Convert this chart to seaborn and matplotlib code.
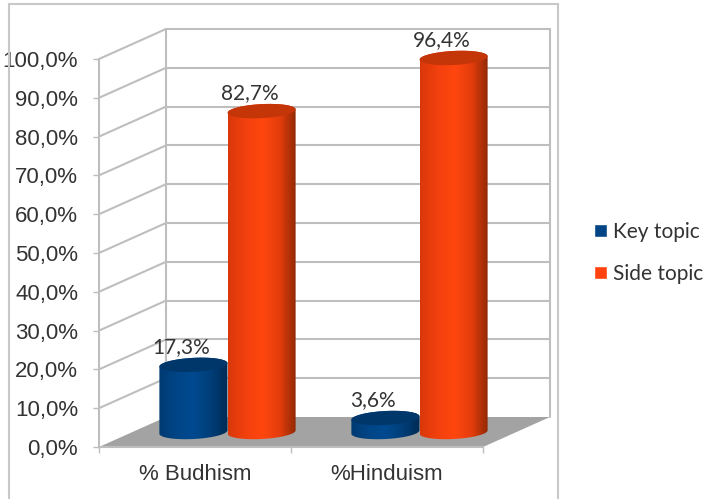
import numpy as np
import pandas as pd
import matplotlib.pyplot as plt
import seaborn as sns
from matplotlib.colors import LinearSegmentedColormap
from matplotlib.patches import Polygon, Rectangle

# -----------------------------
# 1. DATA
# -----------------------------
categories = ["% Budhism", "%Hinduism"]
key_topic = [17.3, 3.6]
side_topic = [82.7, 96.4]
series_names = ["Key topic", "Side topic"]
y_ticks = [0, 10, 20, 30, 40, 50, 60, 70, 80, 90, 100]

df = pd.DataFrame({
    "category": categories * 2,
    "share": key_topic + side_topic,
    "series": [series_names[0]] * 2 + [series_names[1]] * 2,
})

# -----------------------------
# 2. FIGURE AND AXES
# -----------------------------
W, H = 705, 499
GREY = "#BEBEBE"
TEXT = "#333333"
BLUE = "#004586"
RED = "#FF420E"

sns.set_theme(style="white")
plt.rcParams["font.family"] = ["Liberation Sans", "DejaVu Sans"]

fig = plt.figure(figsize=(W / 100, H / 100), dpi=100, facecolor="white")


def px_axes(left, right, top, bottom):
    return fig.add_axes([left / W, 1 - bottom / H, (right - left) / W, (bottom - top) / H])


# outer chart border, runs off the bottom of the image
fig.add_artist(Rectangle((9 / W, -0.02), 549 / W, 1.02 - 3.5 / H, transform=fig.transFigure,
                         fill=False, edgecolor="#C8C8C8", linewidth=1.5))

# front plane carries the value and category axes
ax_front = px_axes(99, 483, 59, 447)
ax_front.set_xlim(-0.5, 1.5)
ax_front.set_ylim(0, 100)
ax_front.patch.set_visible(False)

# bars stand half way into the depth of the box
ax = px_axes(131.5, 515.5, 44, 432)
ax.patch.set_visible(False)

# -----------------------------
# 3. 3D BOX (FLOOR AND WALLS)
# -----------------------------
dx = 67 / 192
dy = 30 / 3.88

ax_front.add_patch(Polygon([(-0.5, 0), (-0.5 + dx, dy), (1.5 + dx, dy), (1.5, 0)],
                           closed=True, facecolor="#A3A3A3", edgecolor="none",
                           clip_on=False, zorder=1))
for t in y_ticks:
    if t > 0:
        ax_front.plot([-0.5, -0.5 + dx], [t, t + dy], color=GREY, lw=1.5, clip_on=False, zorder=2)
        ax_front.plot([-0.5 + dx, 1.5 + dx], [t + dy, t + dy], color=GREY, lw=1.5, clip_on=False, zorder=2)
for x in [-0.5 + dx, 1.5 + dx]:
    ax_front.plot([x, x], [dy, 100 + dy], color=GREY, lw=1.5, clip_on=False, zorder=2)

sns.despine(ax=ax_front)
for side in ["left", "bottom"]:
    ax_front.spines[side].set_color(GREY)
    ax_front.spines[side].set_linewidth(1.5)

ax_front.set_yticks(y_ticks)
ax_front.set_yticklabels([f"{t:.1f}%".replace(".", ",") for t in y_ticks], fontsize=16, color=TEXT)
ax_front.set_xticks([-0.5, 0.5, 1.5])
ax_front.set_xticklabels([])
ax_front.set_xticks([0, 1], minor=True)
ax_front.set_xticklabels(categories, minor=True, fontsize=16, color=TEXT)
ax_front.tick_params(axis="y", which="major", left=True, length=4.5, width=1, color=GREY, pad=10.5)
ax_front.tick_params(axis="x", which="major", bottom=True, length=4.5, width=1, color=GREY)
ax_front.tick_params(axis="x", which="minor", bottom=False, length=0, pad=12.5)

# -----------------------------
# 4. BARS
# -----------------------------
sns.barplot(data=df, x="category", y="share", hue="series", order=categories,
            hue_order=series_names, palette=[BLUE, RED], saturation=1, width=0.71, ax=ax)
ax.set_xlim(-0.5, 1.5)
ax.set_ylim(0, 100)
ax.axis("off")

sns.move_legend(ax, "upper left", bbox_to_anchor=(594 / W, 1 - 222 / H),
                bbox_transform=fig.transFigure, title=None, frameon=False, ncol=1,
                handlelength=0.62, handleheight=0.62, handletextpad=0.3, labelspacing=1.05,
                borderpad=0, borderaxespad=0, prop={"family": "Lato", "size": 15})
for txt in ax.get_legend().get_texts():
    txt.set_color(TEXT)

# -----------------------------
# 5. CYLINDERS ON TOP OF THE BARS
# -----------------------------
px_x = 2 / 384
px_y = 100 / 388
half_h = 7
tilt = np.deg2rad(3)

ramps = {
    BLUE: (["#003A72", "#004586", "#004A90", "#003E78", "#002B55"], "#00376B"),
    RED: (["#D9380B", "#F2400E", "#FF470F", "#E53D0C", "#8C2805"], "#C43508"),
}


def ellipse_xy(cx, cy, half_w, start, stop):
    # tilted ellipse, worked out in pixels then turned back to data units
    a = np.linspace(start, stop, 80)
    ex = half_w * np.cos(a)
    ey = half_h * np.sin(a)
    rx = ex * np.cos(tilt) - ey * np.sin(tilt)
    ry = ex * np.sin(tilt) + ey * np.cos(tilt)
    return np.column_stack([cx + rx * px_x, cy + ry * px_y])


z = 5
for container, color in zip(ax.containers, [BLUE, RED]):
    stops, top_color = ramps[color]
    cmap = LinearSegmentedColormap.from_list("cyl", stops)
    for bar in container:
        cx = bar.get_x() + bar.get_width() / 2
        half_w = bar.get_width() / 2 / px_x
        h = bar.get_height()
        bottom = ellipse_xy(cx, 0, half_w, np.pi, 2 * np.pi)
        top = ellipse_xy(cx, h, half_w, 0, np.pi)
        outline = Polygon(np.vstack([bottom, top]), closed=True, transform=ax.transData,
                          facecolor="none", edgecolor="none")
        ax.add_patch(outline)
        grad = np.linspace(0, 1, 256)[None, :]
        im = ax.imshow(grad, cmap=cmap, aspect="auto", zorder=z, interpolation="bilinear",
                       extent=[bar.get_x(), bar.get_x() + bar.get_width(), -5, h + 5])
        # the lower rim hangs below y=0, so the axes box must not clip it
        im.set_clip_box(fig.bbox)
        im.set_clip_path(outline)
        ax.add_patch(Polygon(ellipse_xy(cx, h, half_w, 0, 2 * np.pi), closed=True,
                             facecolor=top_color, edgecolor="none", zorder=z + 0.5))
        ax.annotate(f"{h:.1f}%".replace(".", ","), (cx, h), xytext=(-12, 18),
                    textcoords="offset pixels", ha="center", va="center",
                    fontsize=15, family="Lato", color=TEXT, zorder=20,
                    annotation_clip=False)
        bar.set_visible(False)
        z += 1

ax.set_xlim(-0.5, 1.5)
ax.set_ylim(0, 100)

# -----------------------------
# 6. SAVE
# -----------------------------
fig.savefig("out.png", dpi=100)
plt.close(fig)
